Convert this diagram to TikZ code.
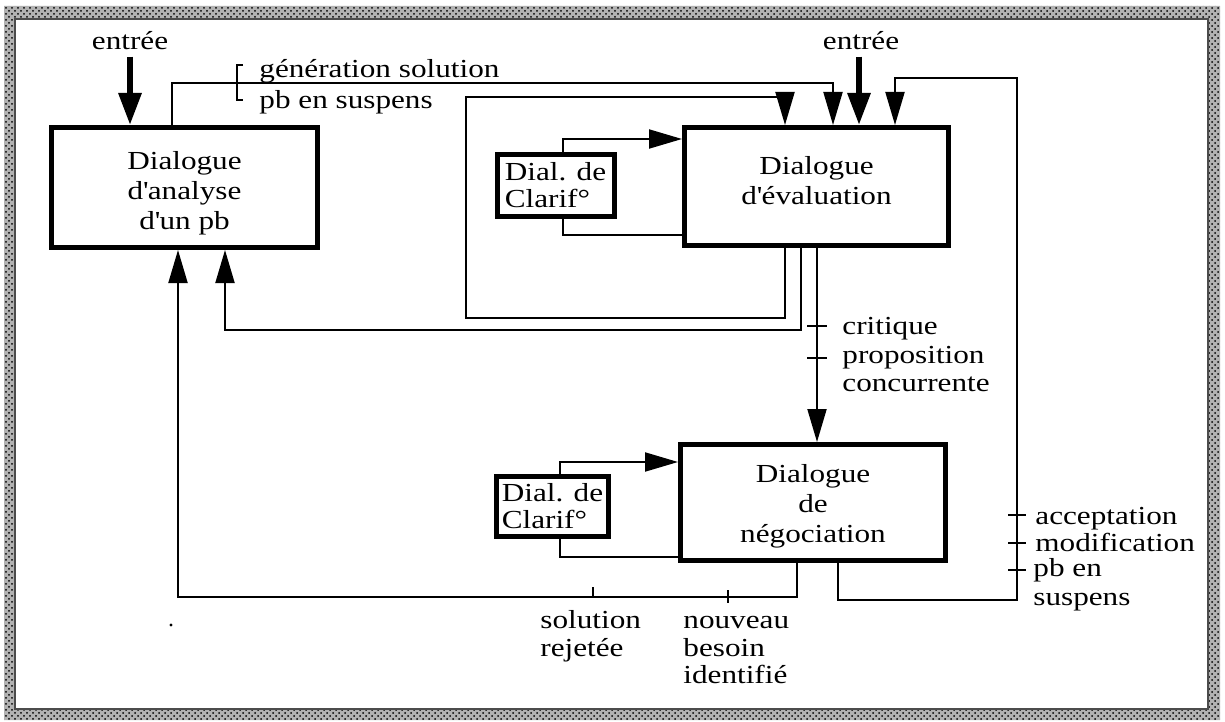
\documentclass[tikz,border=0pt]{standalone}
\usepackage{fontspec}
\setmainfont{Liberation Serif}[FakeStretch=1.2]
\usetikzlibrary{arrows.meta,patterns}
\begin{document}
\begin{tikzpicture}[x=0.5pt,y=-0.5pt,
  txt/.style={font=\fontsize{13pt}{15pt}\selectfont, inner sep=0pt},
  boxtxt/.style={align=center, inner sep=0pt, font=\fontsize{13pt}{15pt}\selectfont},
  bigbox/.style={draw, line width=2.5pt, inner sep=0pt},
  clarbox/.style={draw, line width=2.5pt, inner sep=0pt, align=left, font=\fontsize{13pt}{13.5pt}\selectfont},
  arr/.style={line width=1pt, -{Triangle[length=16.5pt,width=9.5pt]}},
  thickarr/.style={line width=3pt, -{Triangle[length=16pt,width=11pt]}},
  thin/.style={line width=1pt},
  tick/.style={line width=1pt}]
\useasboundingbox (0,0) rectangle (1225,722);
% frame
\fill[white!40!gray, even odd rule] (4,6) rectangle (1220,720) (15,19) rectangle (1208,709);
\fill[pattern=crosshatch dots, pattern color=black, even odd rule] (4,6) rectangle (1220,720) (15,19) rectangle (1208,709);
\draw[line width=0.6pt, black!70] (15,19) rectangle (1208,709);

% boxes
\node[bigbox, minimum width=133pt, minimum height=60pt] (A) at (184.5,187.5) {};
\node[boxtxt] (At) at (184.5,193.5) {Dialogue\\d\textquotesingle analyse\\d\textquotesingle un pb};
\node[bigbox, minimum width=132pt, minimum height=59pt] (E) at (816.5,186.5) {};
\node[boxtxt] (Et) at (816.5,181) {Dialogue\\d\textquotesingle évaluation};
\node[bigbox, minimum width=132.5pt, minimum height=58pt] (N) at (813,502.5) {};
\node[boxtxt] (Nt) at (813,506.5) {Dialogue\\de\\négociation};
\node[clarbox, minimum width=58.5pt, minimum height=31pt] (CT) at (555.5,185) {Dial. de\\Clarif°};
\node[clarbox, minimum width=56pt, minimum height=30pt] (CB) at (552.5,506) {Dial. de\\Clarif°};

% entrées
\node[txt, anchor=base] (eL) at (130,50) {entrée};
\node[txt, anchor=base] (eR) at (861,50) {entrée};
\draw[thickarr] ([yshift=-3pt]eL.south -| 130,0) -- (A.north -| 130,0);
\draw[thickarr] ([yshift=-3pt]eR.south -| 859,0) -- (E.north -| 859,0);

% génération solution / pb en suspens
\draw[arr] (A.north -| 172,0) |- (833,83) -- (E.north -| 833,0);
\draw[thin] (243,65) -- (237,65) -- (237,100) -- (243,100);
\node[txt, anchor=base west] (gs) at (259,78) {génération solution};
\node[txt, anchor=base west] (ps) at (259,109) {pb en suspens};

% inner loop of evaluation
\draw[arr] (E.south -| 785,0) -- (785,318) -| (466,97) -| (E.north -| 785,0);
% feedback to analysis
\draw[arr] (E.south -| 801,0) |- (225,330) -- (A.south -| 225,0);
% evaluation to negotiation
\draw[arr] (E.south -| 817,0) -- (N.north -| 817,0);
\draw[tick] (807,326) -- (827,326);
\draw[tick] (807,358) -- (827,358);
\node[txt, anchor=base west] (cr) at (842,334) {critique};
\node[txt, anchor=base west] (pr) at (842,363) {proposition};
\node[txt, anchor=base west] (cc) at (842,391) {concurrente};

% right loop
\draw[arr] (N.south -| 838,0) |- (1017,600) |- (895,78) -- (E.north -| 895,0);
\draw[tick] (1008,515) -- (1026,515);
\draw[tick] (1008,543) -- (1026,543);
\draw[tick] (1008,570) -- (1026,570);
\node[txt, anchor=base west] (ac) at (1035,524) {acceptation};
\node[txt, anchor=base west] (mo) at (1035,551) {modification};
\node[txt, anchor=base west] (pe) at (1033,576) {pb en};
\node[txt, anchor=base west] (su) at (1033,605) {suspens};

% bottom loop
\draw[arr] (N.south -| 797,0) |- (178,597) -- (A.south -| 178,0);
\draw[tick] (593,587) -- (593,597);
\draw[tick] (728,590) -- (728,603);
\node[txt, anchor=base west] (so) at (540,628) {solution};
\node[txt, anchor=base west] (re) at (540,656) {rejetée};
\node[txt, anchor=base west] (no) at (683,628) {nouveau};
\node[txt, anchor=base west] (be) at (683,656) {besoin};
\node[txt, anchor=base west] (id) at (683,683) {identifié};

% clarification loops
\draw[arr] (CT.north -| 563,0) |- (E.west |- 0,139);
\draw[thin] (CT.south -| 563,0) |- (E.west |- 0,235);
\draw[arr] (CB.north -| 560,0) |- (N.west |- 0,462);
\draw[thin] (CB.south -| 560,0) |- (N.west |- 0,557);

% stray dot
\fill (171,625) circle (1.6);
\end{tikzpicture}
\end{document}
